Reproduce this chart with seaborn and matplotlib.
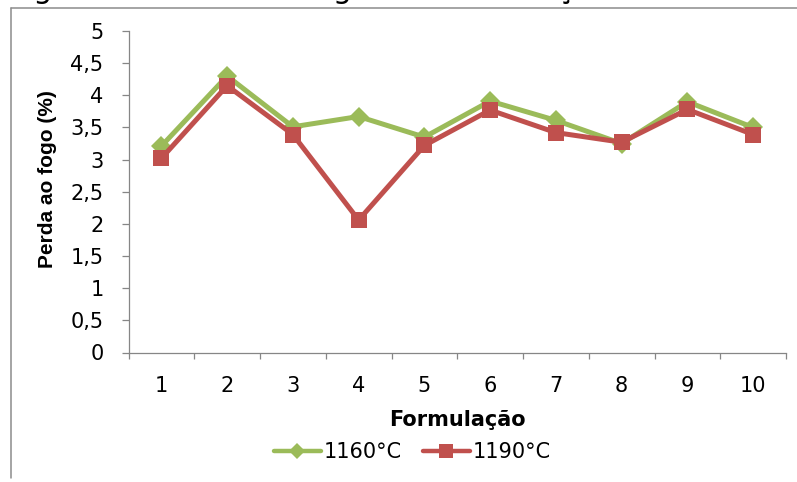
import matplotlib
matplotlib.use("Agg")
import matplotlib.pyplot as plt
from matplotlib.lines import Line2D
import seaborn as sns
import pandas as pd

# Loss on ignition (%) per formulation, for two firing temperatures
formulacoes = [1, 2, 3, 4, 5, 6, 7, 8, 9, 10]
perda_1160 = [3.21, 4.30, 3.51, 3.67, 3.35, 3.91, 3.61, 3.25, 3.90, 3.50]
perda_1190 = [3.02, 4.15, 3.39, 2.06, 3.22, 3.77, 3.42, 3.27, 3.78, 3.39]
series = ["1160°C", "1190°C"]
y_ticks = [0, 0.5, 1, 1.5, 2, 2.5, 3, 3.5, 4, 4.5, 5]
y_tick_labels = ["0", "0,5", "1", "1,5", "2", "2,5", "3", "3,5", "4", "4,5", "5"]
x_tick_labels = ["1", "2", "3", "4", "5", "6", "7", "8", "9", "10"]

df = pd.DataFrame({
    "Formulação": formulacoes * 2,
    "Perda": perda_1160 + perda_1190,
    "Temperatura": [series[0]] * len(formulacoes) + [series[1]] * len(formulacoes),
})

sns.set_theme(style="white")
plt.rcParams["font.family"] = ["DejaVu Sans"]
plt.rcParams["text.color"] = "black"
plt.rcParams["axes.labelcolor"] = "black"

FS = 15
W, H = 797, 482
fig = plt.figure(figsize=(W / 100, H / 100), dpi=100)
ax_left, ax_right, ax_top, ax_bottom = 128.5, 786, 31, 352.5
ax = fig.add_axes([ax_left / W, 1 - ax_bottom / H,
                   (ax_right - ax_left) / W, (ax_bottom - ax_top) / H])

palette = {series[0]: "#9BBB59", series[1]: "#C0504D"}
markers = {series[0]: "D", series[1]: "s"}
sizes = {series[0]: 10, series[1]: 11}

for name in series:
    sub = df[df["Temperatura"] == name]
    sns.lineplot(data=sub, x="Formulação", y="Perda", ax=ax,
                 color=palette[name], marker=markers[name],
                 markersize=sizes[name], markeredgewidth=0,
                 linewidth=3.6, label=name, legend=False)

ax.set_xlim(0.5, 10.5)
ax.set_ylim(0, 5)

grey = "#868686"
for side in ["top", "right"]:
    ax.spines[side].set_visible(False)
for side in ["left", "bottom"]:
    ax.spines[side].set_color(grey)
    ax.spines[side].set_linewidth(0.9)

ax.set_yticks(y_ticks)
ax.set_yticklabels(y_tick_labels)
ax.tick_params(axis="y", direction="out", length=5, width=0.9, color=grey,
               pad=13, labelsize=FS, labelcolor="black", left=True)

# category labels at the centres, tick marks on the boundaries
ax.set_xticks(formulacoes)
ax.set_xticklabels(x_tick_labels)
ax.set_xticks([i + 0.5 for i in range(0, 11)], minor=True)
ax.tick_params(axis="x", which="major", length=0, pad=17, labelsize=FS,
               labelcolor="black")
ax.tick_params(axis="x", which="minor", direction="out", length=4.5, width=0.9,
               color=grey, bottom=True)

ax.set_xlabel("Formulação", fontsize=FS, fontweight="bold", color="black")
ax.xaxis.label.set_va("baseline")
ax.xaxis.set_label_coords(0.5, (ax_bottom - 426.5) / (ax_bottom - ax_top))

ax.set_ylabel("Perda ao fogo (%)", fontsize=FS, fontweight="bold", color="black",
              family=["Liberation Sans", "DejaVu Sans"])
ax.yaxis.label.set_va("baseline")
ax.yaxis.set_label_coords((53 - ax_left) / (ax_right - ax_left),
                          (ax_bottom - 179.5) / (ax_bottom - ax_top))

handles = [Line2D([], [], color=palette[n], marker=markers[n], linewidth=3.2,
                  markersize=sizes[n] - 1.5, markeredgewidth=0) for n in series]
fig.legend(handles, series, loc="center", bbox_to_anchor=(412.5 / W, 1 - 452 / H),
           ncol=2, frameon=False, fontsize=FS, handlelength=2.25,
           handletextpad=0.15, columnspacing=1.0, borderpad=0, borderaxespad=0,
           labelcolor="black")

# frame of the chart area and the caption line above it
fig.add_artist(Line2D([11 / W, 11 / W], [1 - 7.5 / H, 1 - 478 / H],
                      transform=fig.transFigure, color="#8c8c8c", linewidth=1.1))
fig.add_artist(Line2D([11 / W, 1.0], [1 - 7.5 / H, 1 - 7.5 / H],
                      transform=fig.transFigure, color="#8c8c8c", linewidth=1.1))
fig.text(10 / W, 1 + 2 / H, "Figura 6 – Perda ao fogo das formulações",
         fontsize=21.5, va="baseline", ha="left", color="black")

fig.savefig("out.png", dpi=100, facecolor="white")
